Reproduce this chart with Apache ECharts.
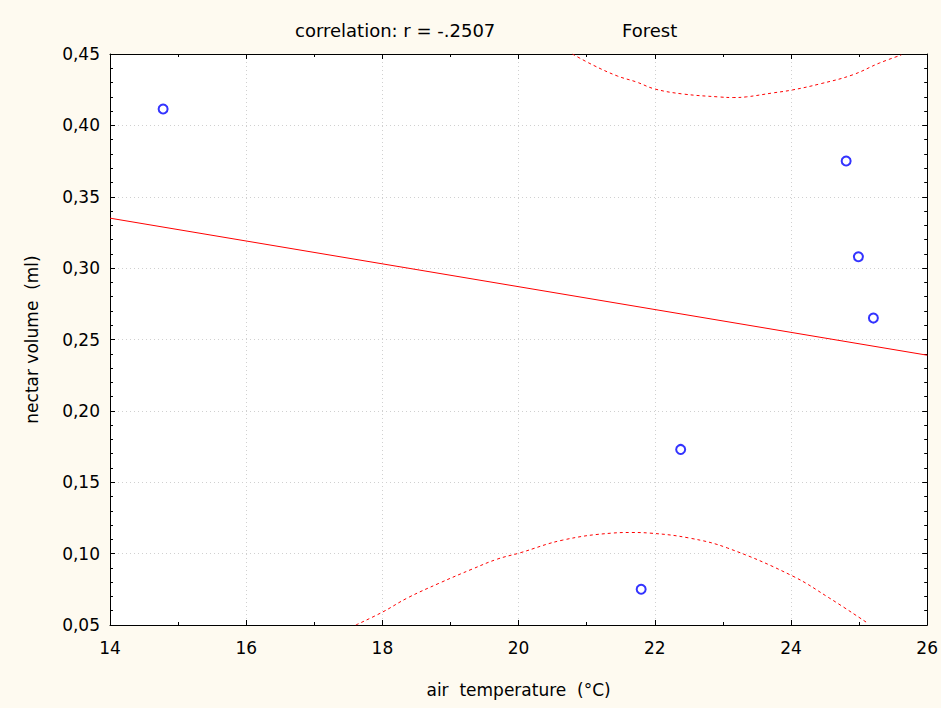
<!DOCTYPE html>
<html>
<head>
<meta charset="utf-8">
<script src="https://cdn.jsdelivr.net/npm/echarts@6/dist/echarts.min.js"></script>
<style>
html,body{margin:0;padding:0;background:#fefaf0;}
#chart{width:941px;height:708px;}
</style>
</head>
<body>
<div id="chart"></div>
<script>
// Observed points: [air temperature, nectar volume]
const points = [
  [14.78, 0.4115],
  [24.81, 0.375],
  [24.99, 0.308],
  [25.21, 0.265],
  [22.38, 0.173],
  [21.80, 0.075]
];
// Regression line end points
const regLine = [[14, 0.335], [26, 0.239]];
// Upper 95% confidence band
const upperBand = [
  [20.79, 0.450], [21.09, 0.4423], [21.45, 0.4346], [21.73, 0.4304], [22.0, 0.4255],
  [22.41, 0.4220], [22.95, 0.4199], [23.15, 0.4195], [23.35, 0.4200], [23.73, 0.4227], [24.02, 0.4248],
  [24.42, 0.4290], [24.9, 0.4353], [25.3, 0.4437], [25.62, 0.4493]
];
// Lower 95% confidence band
const lowerBand = [
  [17.61, 0.050], [18.0, 0.059], [18.37, 0.069], [18.84, 0.0794], [19.32, 0.0892],
  [19.69, 0.0962], [20.01, 0.1004], [20.65, 0.1095], [21.38, 0.1144], [21.65, 0.1148], [21.92, 0.1144],
  [22.51, 0.1109], [23.07, 0.1039], [24.02, 0.0844], [24.56, 0.069], [25.12, 0.0515]
];
const xTicks = {min: 14, max: 26, interval: 2};
const yTicks = {min: 0.05, max: 0.45, interval: 0.05};
const titleLeft = 'correlation: r = -.2507';
const titleRight = 'Forest';
const xName = 'air  temperature  (°C)';
const yName = 'nectar volume  (ml)';

const chart = echarts.init(document.getElementById('chart'), null, {renderer: 'svg'});
const font = 'DejaVu Sans, Verdana, sans-serif';
const fs = 17;
const lineBlack = {show: true, lineStyle: {color: '#000', width: 1}};
const gridLine = {show: true, lineStyle: {color: '#d0d0d0', type: [1, 3], width: 1}};
function xAxis(pos, labels) {
  return {
    type: 'value', position: pos, min: xTicks.min, max: xTicks.max, interval: xTicks.interval,
    axisLine: lineBlack,
    axisTick: {show: true, inside: true, length: 5, lineStyle: {color: '#000'}},
    minorTick: {show: true, splitNumber: 2, length: 3, lineStyle: {color: '#000'}},
    splitLine: pos === 'bottom' ? gridLine : {show: false},
    axisLabel: labels ? {show: true, color: '#000', fontSize: fs, fontFamily: font, margin: 14} : {show: false},
    name: labels ? xName : '', nameLocation: 'middle', nameGap: 56,
    nameTextStyle: {color: '#000', fontSize: fs, fontFamily: font}
  };
}
function yAxis(pos, labels) {
  return {
    type: 'value', position: pos, min: yTicks.min, max: yTicks.max, interval: yTicks.interval,
    axisLine: lineBlack,
    axisTick: {show: true, inside: true, length: 5, lineStyle: {color: '#000'}},
    minorTick: {show: true, splitNumber: 5, length: 3, lineStyle: {color: '#000'}},
    splitLine: pos === 'left' ? gridLine : {show: false},
    axisLabel: labels ? {show: true, color: '#000', fontSize: fs, fontFamily: font, margin: 10,
      formatter: v => v.toFixed(2).replace('.', ',')} : {show: false},
    name: labels ? yName : '', nameLocation: 'middle', nameGap: 70, nameRotate: 90,
    nameTextStyle: {color: '#000', fontSize: fs, fontFamily: font}
  };
}
const option = {
  backgroundColor: '#fefaf0',
  animation: false,
  grid: {left: 110, right: 12, top: 54, bottom: 83, show: true, backgroundColor: '#ffffff', borderWidth: 0},
  title: [
    {text: titleLeft, left: 290, top: 16, textStyle: {color: '#000', fontSize: 18, fontWeight: 'normal', fontFamily: font}},
    {text: titleRight, left: 617, top: 16, textStyle: {color: '#000', fontSize: 18, fontWeight: 'normal', fontFamily: font}}
  ],
  xAxis: [xAxis('bottom', true), xAxis('top', false)],
  yAxis: [yAxis('left', true), yAxis('right', false)],
  series: [
    {type: 'line', data: regLine, symbol: 'none', lineStyle: {color: '#ff0000', width: 1}, z: 3},
    {type: 'line', data: upperBand, symbol: 'none', smooth: 0.4, lineStyle: {color: '#ff0000', width: 1, type: [3, 3]}, z: 3},
    {type: 'line', data: lowerBand, symbol: 'none', smooth: 0.4, lineStyle: {color: '#ff0000', width: 1, type: [3, 3]}, z: 3},
    {type: 'scatter', data: points, symbol: 'circle', symbolSize: 9,
     itemStyle: {color: '#ffffff', borderColor: '#0000ff', borderWidth: 2}, z: 4}
  ]
};
chart.setOption(option);
</script>
</body>
</html>
